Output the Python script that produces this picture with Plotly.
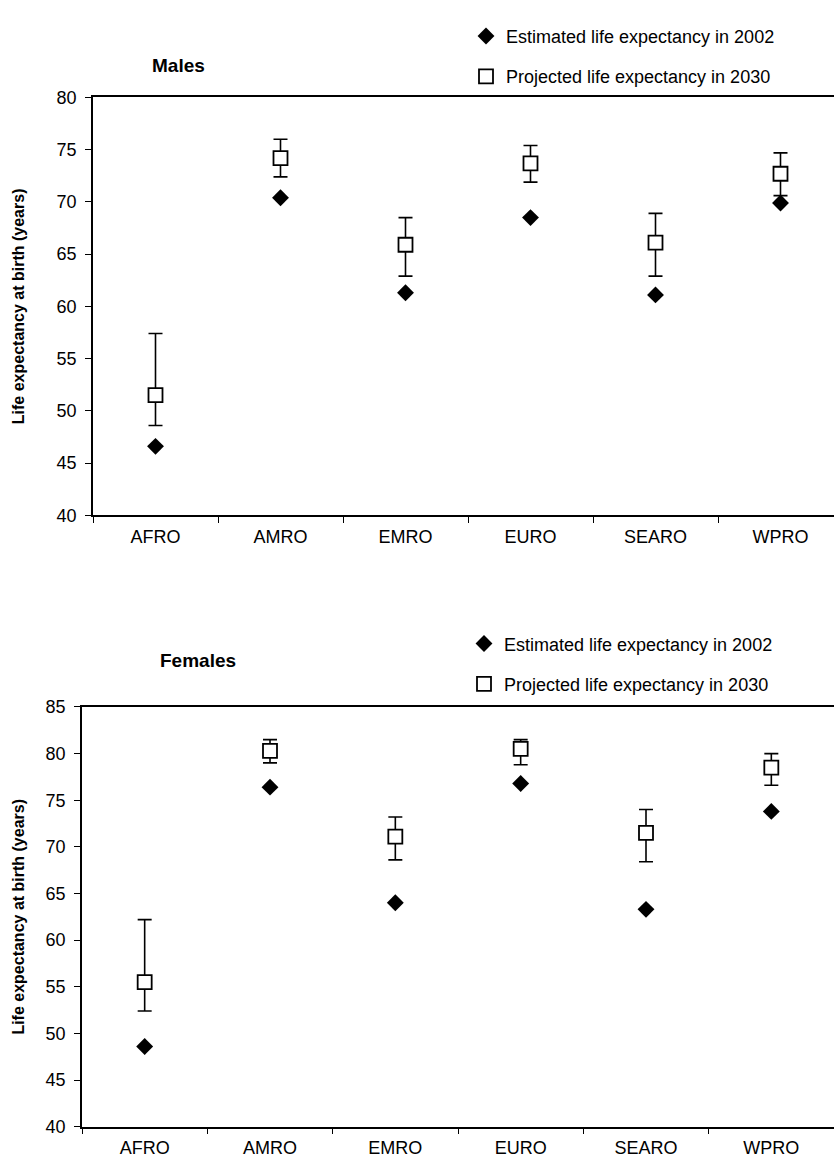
import numpy as np
import plotly.graph_objects as go

regions = ["AFRO", "AMRO", "EMRO", "EURO", "SEARO", "WPRO"]

male_2002 = [46.6, 70.4, 61.3, 68.5, 61.1, 69.9]
male_2030 = [51.5, 74.2, 65.9, 73.7, 66.1, 72.7]
male_2030_low = [48.6, 72.4, 62.9, 71.9, 62.9, 70.6]
male_2030_high = [57.4, 76.0, 68.5, 75.4, 68.9, 74.7]

female_2002 = [48.6, 76.4, 64.0, 76.8, 63.3, 73.8]
female_2030 = [55.5, 80.3, 71.1, 80.5, 71.5, 78.5]
female_2030_low = [52.4, 79.0, 68.6, 78.8, 68.4, 76.6]
female_2030_high = [62.2, 81.5, 73.2, 81.5, 74.0, 80.0]

male_ticks = [40, 45, 50, 55, 60, 65, 70, 75, 80]
female_ticks = [40, 45, 50, 55, 60, 65, 70, 75, 80, 85]

FONT = "Liberation Sans, Arial, sans-serif"
W, H = 834, 1176

fig = go.Figure()


def add_panel(est, proj, low, high, xa, ya, legend, tag):
    proj_a = np.array(proj)
    fig.add_trace(go.Scatter(
        x=regions, y=est, mode="markers", name="Estimated life expectancy in 2002",
        marker=dict(symbol="diamond", size=13, color="black"),
        xaxis=xa, yaxis=ya, legend=legend, legendgroup=tag + "a", showlegend=True))
    fig.add_trace(go.Scatter(
        x=regions, y=proj, mode="markers", name="Projected life expectancy in 2030",
        marker=dict(symbol="square", size=14, color="white", line=dict(color="black", width=1.8)),
        error_y=dict(type="data", symmetric=False,
                     array=np.array(high) - proj_a, arrayminus=proj_a - np.array(low),
                     color="black", thickness=1.6, width=7),
        xaxis=xa, yaxis=ya, legend=legend, legendgroup=tag + "b", showlegend=True))


add_panel(male_2002, male_2030, male_2030_low, male_2030_high, "x", "y", "legend", "m")
add_panel(female_2002, female_2030, female_2030_low, female_2030_high, "x2", "y2", "legend2", "f")

axis_font = dict(family=FONT, size=18, color="black")
common_x = dict(type="category", showline=True, linecolor="black", linewidth=1.6, mirror=True,
                ticks="outside", ticklen=6, tickcolor="black", tickson="boundaries",
                tickfont=axis_font, showgrid=False, zeroline=False, ticklabelstandoff=4)


def y_axis(standoff):
    return dict(showline=True, linecolor="black", linewidth=1.6, ticks="outside", ticklen=6,
                tickcolor="black", tickfont=axis_font, showgrid=False, zeroline=False,
                ticklabelstandoff=5,
                title=dict(text="<b>Life expectancy at birth (years)</b>",
                           font=dict(family=FONT, size=16, color="black"), standoff=standoff))


legend_common = dict(xanchor="left", yanchor="top", bgcolor="rgba(0,0,0,0)",
                     font=dict(family=FONT, size=18, color="black"), itemwidth=30,
                     tracegroupgap=14, traceorder="grouped")

fig.update_layout(
    width=W, height=H, margin=dict(l=0, r=0, t=0, b=0),
    paper_bgcolor="white", plot_bgcolor="white",
    font=dict(family=FONT, color="black"),
    xaxis=dict(domain=[93 / W, 1], range=[-0.5, -0.5 + (W - 93) / 125], anchor="y", **common_x),
    yaxis=dict(domain=[1 - 514 / H, 1 - 89 / H], range=[40, 80], tickvals=male_ticks, anchor="x",
               **y_axis(28)),
    xaxis2=dict(domain=[82 / W, 1], range=[-0.5, 5.5], anchor="y2", **common_x),
    yaxis2=dict(domain=[1 - 1136 / H, 1 - 709 / H], range=[40, 85], tickvals=female_ticks, anchor="x2",
                **y_axis(17)),
    legend=dict(x=466 / W, y=1 - 8 / H, **legend_common),
    legend2=dict(x=464 / W, y=1 - 626 / H, **legend_common),
    annotations=[
        dict(text="<b>Males</b>", x=150 / W, y=1 - 44 / H, xref="paper", yref="paper",
             showarrow=False, font=dict(family=FONT, size=19, color="black")),
        dict(text="<b>Females</b>", x=158 / W, y=1 - 662 / H, xref="paper", yref="paper",
             showarrow=False, font=dict(family=FONT, size=19, color="black")),
    ],
)

fig.write_html("out.html")
